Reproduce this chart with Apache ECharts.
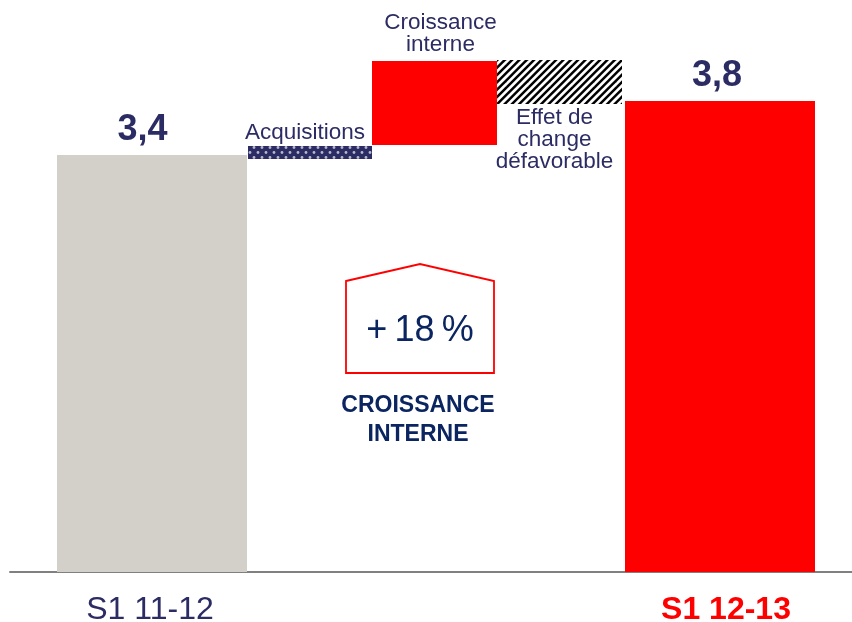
<!DOCTYPE html>
<html lang="fr">
<head>
    <meta charset="utf-8">
    <title>Croissance</title>
    <script src="https://cdn.jsdelivr.net/npm/echarts@6/dist/echarts.min.js"></script>
    <style>
        html, body { margin: 0; padding: 0; background: #fff; }
        #main { width: 852px; height: 622px; }
    </style>
</head>
<body>
<div id="main"></div>
<script>
    // data
    var steps = ['S1 11-12', 'Acquisitions', 'Croissance\ninterne', 'Effet de\nchange\ndéfavorable', 'S1 12-13'];
    var lowValues = [0, 3.367, 3.481, 3.816, 0];
    var highValues = [3.4, 3.473, 4.166, 4.175, 3.84];
    var valueLabels = ['3,4', '', '', '', '3,8'];
    var axisNames = ['S1 11-12', 'S1 12-13'];

    // x extent of each column, in x axis units
    var xFrom = [47, 238, 362, 487, 615];
    var xTo = [237, 362, 487, 612, 805];

    var navy = '#2c2c64';
    var darkBlue = '#0b2560';
    var font = '"Liberation Sans", Arial, sans-serif';

    function dotsPattern() {
        var c = document.createElement('canvas');
        c.width = 8;
        c.height = 10;
        var g = c.getContext('2d');
        g.fillStyle = navy;
        g.fillRect(0, 0, 8, 10);
        g.fillStyle = '#b8b8cc';
        g.beginPath();
        g.arc(2, 2.5, 1.4, 0, Math.PI * 2);
        g.fill();
        g.beginPath();
        g.arc(6, 7.5, 1.4, 0, Math.PI * 2);
        g.fill();
        return { image: c, repeat: 'repeat' };
    }

    function hatchPattern() {
        // 3 stripes per tile, about 7.3px apart
        var c = document.createElement('canvas');
        c.width = 22;
        c.height = 22;
        var g = c.getContext('2d');
        g.fillStyle = '#fff';
        g.fillRect(0, 0, 22, 22);
        g.strokeStyle = '#000';
        g.lineWidth = 2.5;
        for (var o = -22; o <= 22; o += 22 / 3) {
            g.beginPath();
            g.moveTo(o - 1, 23);
            g.lineTo(o + 23, -1);
            g.stroke();
        }
        return { image: c, repeat: 'repeat' };
    }

    var fills = ['#d3d0c9', dotsPattern(), '#ff0000', hatchPattern(), '#ff0000'];

    var myChart = echarts.init(document.getElementById('main'));

    function renderColumn(params, api) {
        var i = params.dataIndex;
        var tl = api.coord([api.value(0), api.value(3)]);
        var br = api.coord([api.value(1), api.value(2)]);
        var children = [{
            type: 'rect',
            shape: { x: tl[0], y: tl[1], width: br[0] - tl[0], height: br[1] - tl[1] },
            style: { fill: fills[i] }
        }];
        var cx = (tl[0] + br[0]) / 2;
        if (valueLabels[i]) {
            children.push({
                type: 'text',
                style: {
                    text: valueLabels[i], x: cx + (i === 0 ? -9.5 : -3), y: tl[1] - 7,
                    align: 'center', verticalAlign: 'bottom',
                    font: 'bold 36px ' + font, fill: navy
                }
            });
        } else {
            // the falling step has its caption under the bar, the others above
            var below = i === 3;
            children.push({
                type: 'text',
                style: {
                    text: steps[i],
                    x: cx + (i === 1 ? -5 : i === 2 ? 6 : -5),
                    y: below ? br[1] + 3 : tl[1] - (i === 1 ? 2 : 5),
                    align: 'center', verticalAlign: below ? 'top' : 'bottom',
                    font: '22.5px ' + font, lineHeight: 22, fill: navy
                }
            });
        }
        return { type: 'group', children: children };
    }

    var option = {
        animation: false,
        grid: { left: 10, right: 0, top: 0, bottom: 50, outerBoundsMode: 'none' },
        xAxis: {
            type: 'value',
            min: 0,
            max: 842,
            splitLine: { show: false },
            axisTick: { show: false },
            axisLine: { show: true, lineStyle: { color: '#808080', width: 2 } },
            axisLabel: {
                customValues: [140, 716],
                margin: 22,
                formatter: function (v) {
                    return v < 400 ? '{a|' + axisNames[0] + '}' : '{b|' + axisNames[1] + '}';
                },
                rich: {
                    a: { fontFamily: font, fontSize: 32, color: navy },
                    b: { fontFamily: font, fontSize: 32, fontWeight: 'bold', color: '#ff0000' }
                }
            }
        },
        yAxis: { type: 'value', min: 0, max: 4.664, show: false },
        series: [{
            type: 'custom',
            renderItem: renderColumn,
            encode: { x: [0, 1], y: [2, 3] },
            data: steps.map(function (s, i) {
                return [xFrom[i], xTo[i], lowValues[i], highValues[i]];
            })
        }],
        graphic: [
            {
                type: 'polygon',
                shape: { points: [[346, 281], [420, 264], [494, 281], [494, 373], [346, 373]] },
                style: { fill: '#fff', stroke: '#ff0000', lineWidth: 1.8 }
            },
            {
                type: 'text', x: 420, y: 331,
                style: {
                    text: '+\u200918\u2009%', align: 'center', verticalAlign: 'middle',
                    font: '36px ' + font, fill: darkBlue
                }
            },
            {
                type: 'text', x: 418, y: 420,
                style: {
                    text: 'CROISSANCE\nINTERNE', align: 'center', verticalAlign: 'middle',
                    font: 'bold 23px ' + font, lineHeight: 28.5, fill: darkBlue
                }
            }
        ]
    };

    myChart.setOption(option);
</script>
</body>
</html>
